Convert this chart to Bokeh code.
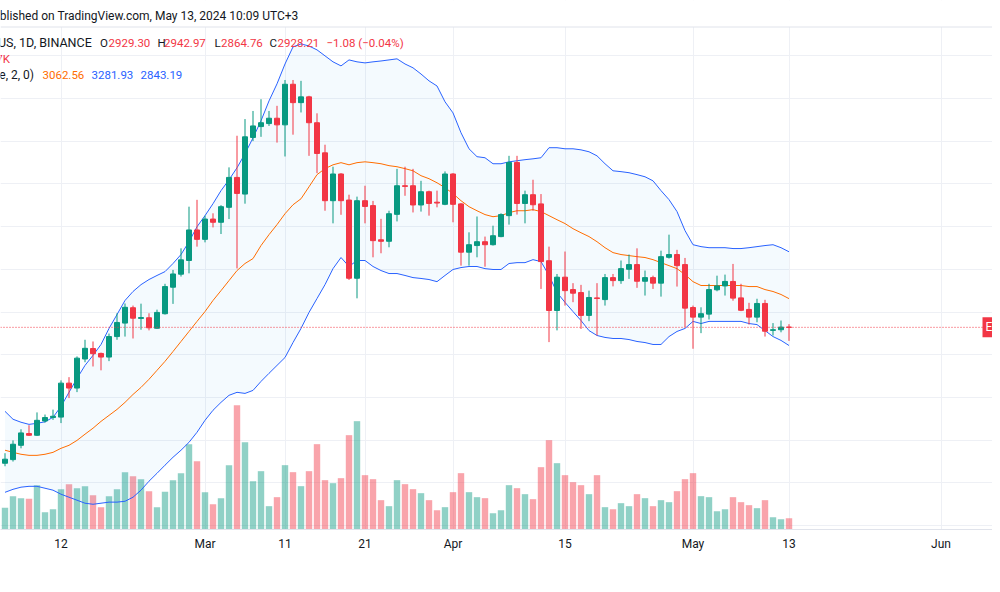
import numpy as np
import pandas as pd
from bokeh.plotting import figure
from bokeh.models import (Range1d, LinearAxis, Grid, FixedTicker, Label, Span,
                          BoxAnnotation)
from bokeh.embed import file_html
from bokeh.resources import INLINE

# ---------------- data ----------------
start_date = "2024-02-05"
symbol = "Ethereum / TetherUS, 1D, BINANCE"
ticker_name = "ETHUSDT"

open_ = [2292, 2309, 2376, 2431, 2423, 2490, 2506, 2508, 2667, 2644,
         2780, 2829, 2806, 2789, 2885, 2948, 3020, 2970, 2973, 2924,
         2992, 3116, 3177, 3241, 3384, 3340, 3435, 3420, 3490, 3630,
         3552, 3817, 3868, 3882, 3907, 3876, 4066, 3980, 4007, 3886,
         3745, 3521, 3646, 3524, 3158, 3521, 3498, 3338, 3331, 3457,
         3591, 3591, 3501, 3563, 3514, 3504, 3646, 3506, 3280, 3311,
         3329, 3315, 3353, 3451, 3700, 3508, 3549, 3506, 3240, 3007,
         3163, 3105, 3091, 2984, 3066, 3058, 3161, 3147, 3200, 3222,
         3144, 3161, 3135, 3256, 3269, 3222, 3021, 2976, 2990, 3104,
         3122, 3143, 3066, 3012, 2976, 3040, 2914, 2917, 2929.30]
high = [2339, 2399, 2451, 2470, 2530, 2520, 2543, 2680, 2695, 2792,
        2870, 2862, 2810, 2899, 2994, 3040, 3030, 3039, 2994, 3011,
        3132, 3197, 3298, 3493, 3525, 3451, 3462, 3500, 3677, 3825,
        3903, 3941, 3996, 3941, 3965, 4086, 4086, 4082, 4012, 3930,
        3783, 3680, 3650, 3549, 3540, 3591, 3520, 3436, 3474, 3670,
        3680, 3670, 3614, 3568, 3568, 3658, 3650, 3510, 3373, 3447,
        3353, 3404, 3462, 3731, 3731, 3568, 3619, 3552, 3306, 3178,
        3283, 3135, 3127, 3100, 3135, 3178, 3178, 3241, 3269, 3298,
        3194, 3170, 3287, 3362, 3291, 3253, 3030, 3022, 3132, 3170,
        3175, 3225, 3132, 3043, 3062, 3057, 2948, 2960, 2942.97]
low = [2278, 2300, 2362, 2420, 2420, 2482, 2495, 2480, 2597, 2625,
       2765, 2745, 2727, 2770, 2870, 2885, 2876, 2917, 2914, 2922,
       2988, 3038, 3166, 3181, 3306, 3326, 3396, 3365, 3435, 3204,
       3507, 3800, 3820, 3871, 3793, 3728, 3830, 3934, 3731, 3650,
       3474, 3415, 3455, 3150, 3064, 3415, 3256, 3275, 3303, 3424,
       3544, 3466, 3470, 3451, 3490, 3500, 3420, 3217, 3217, 3256,
       3212, 3311, 3350, 3409, 3456, 3415, 3474, 3108, 2859, 2914,
       3030, 3046, 2921, 2957, 2890, 3030, 3120, 3132, 3155, 3113,
       3077, 3108, 3072, 3250, 3119, 2929, 2828, 2901, 2965, 3097,
       3077, 3053, 3004, 2941, 2952, 2885, 2890, 2905, 2864.76]
close = [2311, 2381, 2434, 2423, 2493, 2506, 2512, 2667, 2644, 2784,
         2830, 2805, 2789, 2885, 2951, 3022, 2971, 2974, 2926, 2998,
         3119, 3178, 3244, 3384, 3340, 3435, 3420, 3493, 3630, 3555,
         3820, 3871, 3886, 3907, 3876, 4066, 3980, 4007, 3886, 3742,
         3521, 3646, 3521, 3158, 3521, 3494, 3334, 3331, 3460, 3591,
         3588, 3501, 3563, 3508, 3510, 3646, 3504, 3280, 3315, 3329,
         3315, 3357, 3456, 3700, 3508, 3549, 3502, 3236, 3007, 3163,
         3100, 3088, 2984, 3068, 3063, 3161, 3147, 3203, 3222, 3144,
         3161, 3135, 3259, 3269, 3217, 3018, 2976, 2992, 3105, 3122,
         3143, 3065, 3008, 2976, 3040, 2910, 2917, 2929.29, 2928.21]
volume_k = [260, 400, 376, 368, 532, 208, 244, 484, 544, 496,
            520, 412, 268, 400, 484, 688, 640, 604, 460, 268,
            452, 592, 676, 1024, 820, 448, 304, 376, 772, 1492,
            1048, 580, 700, 280, 388, 772, 688, 520, 700, 1024,
            592, 556, 616, 1132, 1300, 652, 604, 352, 280, 592,
            544, 484, 436, 352, 232, 268, 448, 676, 448, 388,
            376, 196, 232, 532, 496, 424, 364, 748, 1072, 796,
            652, 568, 532, 424, 652, 268, 244, 316, 280, 424,
            376, 280, 352, 328, 460, 604, 676, 400, 388, 220,
            244, 388, 328, 292, 256, 352, 148, 124, 135.67]
bb_upper = [2535, 2498, 2484, 2474, 2479, 2486, 2507, 2558, 2624, 2689,
            2750, 2797, 2848, 2923, 2988, 3054, 3096, 3128, 3152, 3171,
            3189, 3227, 3269, 3329, 3399, 3451, 3507, 3568, 3619, 3675,
            3741, 3815, 3895, 3988, 4068, 4161, 4241, 4255, 4245, 4227,
            4199, 4171, 4152, 4180, 4171, 4166, 4171, 4175, 4180, 4185,
            4161, 4143, 4114, 4082, 4058, 3984, 3932, 3839, 3764, 3727,
            3722, 3694, 3694, 3703, 3708, 3713, 3717, 3722, 3769, 3769,
            3764, 3764, 3759, 3750, 3731, 3694, 3661, 3657, 3652, 3643,
            3633, 3614, 3568, 3526, 3470, 3381, 3315, 3306, 3301, 3301,
            3301, 3297, 3297, 3301, 3306, 3311, 3315, 3301, 3281.93]
bb_basis = [2353, 2343, 2334, 2329, 2329, 2334, 2343, 2362, 2376, 2399,
            2428, 2456, 2488, 2516, 2544, 2577, 2614, 2647, 2685, 2727,
            2769, 2815, 2862, 2909, 2956, 3002, 3054, 3100, 3147, 3194,
            3227, 3250, 3311, 3362, 3409, 3460, 3502, 3530, 3586, 3643,
            3671, 3689, 3699, 3689, 3699, 3703, 3699, 3694, 3685, 3680,
            3671, 3661, 3638, 3624, 3605, 3582, 3554, 3521, 3493, 3474,
            3456, 3446, 3451, 3465, 3474, 3474, 3479, 3470, 3451, 3432,
            3414, 3390, 3371, 3353, 3329, 3301, 3278, 3269, 3264, 3259,
            3255, 3245, 3231, 3217, 3203, 3175, 3142, 3124, 3124, 3124,
            3124, 3124, 3124, 3119, 3119, 3105, 3096, 3082, 3062.56]
bb_lower = [2156, 2170, 2180, 2184, 2184, 2175, 2166, 2147, 2133, 2119,
            2105, 2100, 2105, 2110, 2110, 2114, 2133, 2166, 2208, 2245,
            2283, 2320, 2353, 2390, 2437, 2493, 2540, 2577, 2610, 2624,
            2619, 2633, 2675, 2713, 2750, 2787, 2857, 2923, 2998, 3063,
            3128, 3203, 3255, 3213, 3241, 3241, 3213, 3194, 3180, 3180,
            3171, 3161, 3157, 3152, 3142, 3171, 3199, 3208, 3213, 3213,
            3203, 3199, 3199, 3227, 3231, 3231, 3245, 3236, 3171, 3091,
            3045, 3002, 2960, 2913, 2890, 2881, 2876, 2876, 2871, 2862,
            2857, 2848, 2848, 2885, 2909, 2923, 2956, 2946, 2956, 2956,
            2956, 2956, 2956, 2946, 2941, 2913, 2885, 2867, 2843.19]
tick_dates = ["2024-02-12", "2024-03-01", "2024-03-11", "2024-03-21", "2024-04-01",
              "2024-04-15", "2024-05-01", "2024-05-13", "2024-06-01"]
tick_labels = ["12", "Mar", "11", "21", "Apr", "15", "May", "13", "Jun"]
price_grid = [2000, 2200, 2400, 2600, 2800, 3000, 3200, 3400, 3600, 3800, 4000, 4200]

# ---------------- derived ----------------
t0 = pd.Timestamp(start_date)
n = len(close)
x = np.arange(n)
tick_pos = [(pd.Timestamp(d) - t0).days for d in tick_dates]
o = np.array(open_, float); c = np.array(close, float)
up = c >= o
GREEN, RED = "#089981", "#f23645"
colors = [GREEN if u else RED for u in up]

# layout helpers: canvas pixels -> data coordinates (8 px per day, 200 per 42.73 px)
def xd(px):
    return (px - 4.5) / 8.0

def yd(py):
    return 3000 + (311.5 - py) * 200 / 42.727

FONT = "Roboto"
DARK = "#131722"
W, H = 992, 584
FRAME_BOTTOM = 529

p = figure(width=W, height=H, x_range=Range1d(xd(0), xd(W)),
           y_range=Range1d(yd(FRAME_BOTTOM), yd(0)), x_axis_location=None, y_axis_location=None,
           toolbar_location=None, output_backend="svg",
           min_border_left=0, min_border_right=0, min_border_top=0,
           min_border_bottom=H - FRAME_BOTTOM)
p.outline_line_color = None
p.background_fill_color = "white"
p.border_fill_color = "white"
p.grid.visible = False

xaxis = LinearAxis(ticker=FixedTicker(ticks=tick_pos),
                   major_label_overrides={int(t): l for t, l in zip(tick_pos, tick_labels)})
xaxis.axis_line_color = "#e0e3eb"
xaxis.major_tick_line_color = None
xaxis.minor_tick_line_color = None
xaxis.major_tick_out = 0
xaxis.major_label_standoff = 7
xaxis.major_label_text_font = FONT
xaxis.major_label_text_font_size = "12px"
xaxis.major_label_text_color = DARK
p.add_layout(xaxis, "below")

p.add_layout(Grid(dimension=0, ticker=FixedTicker(ticks=tick_pos), grid_line_color="#eef0f5"))
p.add_layout(Grid(dimension=1, ticker=FixedTicker(ticks=price_grid), grid_line_color="#eef0f5"))

# volume pane (overlay at the bottom)
p.extra_y_ranges = {"vol": Range1d(0, FRAME_BOTTOM * 12)}
p.vbar(x=x, top=volume_k, bottom=0, width=0.8, y_range_name="vol",
       fill_color=colors, fill_alpha=0.45, line_color=None)

# Bollinger bands
p.varea(x=x, y1=bb_lower, y2=bb_upper, fill_color="#2196f3", fill_alpha=0.05)
p.line(x, bb_upper, line_color="#2962ff", line_width=1)
p.line(x, bb_lower, line_color="#2962ff", line_width=1)
p.line(x, bb_basis, line_color="#ff6d00", line_width=1)

# candles
p.segment(x0=x, y0=low, x1=x, y1=high, line_color=colors, line_width=1)
p.vbar(x=x, top=np.maximum(o, c), bottom=np.minimum(o, c), width=0.625,
       fill_color=colors, line_color=colors, line_width=1)

# last price line
p.add_layout(Span(location=close[-1], dimension="width", line_color=RED,
                  line_dash="1 2", line_width=1))

# header strip
p.add_layout(BoxAnnotation(bottom=yd(26.5), fill_color="white", fill_alpha=1.0,
                           line_color=None))
p.add_layout(Span(location=yd(26.5), dimension="width", line_color="#e0e3eb", line_width=1))


def lab(px, py, text, color=DARK, align="left", size="11.5px"):
    p.add_layout(Label(x=xd(px), y=yd(py), text=text, text_color=color, text_align=align,
                       text_baseline="middle", text_font=FONT, text_font_size=size))


lab(298, 15, "Published on TradingView.com, May 13, 2024 10:09 UTC+3", align="right", size="12px")
lab(91.5, 42, symbol, align="right", size="12.5px")
chg = close[-1] - close[-2]
pct = chg / close[-2] * 100
for letter, val, lx, vx in [("O", open_[-1], 99.5, 108), ("H", high[-1], 157, 163.5),
                            ("L", low[-1], 214, 220.5), ("C", close[-1], 269, 277)]:
    lab(lx, 42, letter)
    lab(vx, 42, f"{val:.2f}", color=RED)
lab(326, 42, f"\u2212{abs(chg):.2f} (\u2212{abs(pct):.2f}%)", color=RED)
lab(9.5, 58, f"{volume_k[-1]:.2f}K", color=RED, align="right")
lab(33.5, 74, "BB (20, close, 2, 0)", align="right", size="12px")
lab(42, 74, f"{bb_basis[-1]:.2f}", color="#ff6d00")
lab(91, 74, f"{bb_upper[-1]:.2f}", color="#2962ff")
lab(140, 74, f"{bb_lower[-1]:.2f}", color="#2962ff")

# symbol label on the last price
p.add_layout(Label(x=xd(982), y=close[-1], text=ticker_name, text_color="white",
                   background_fill_color=RED, text_baseline="middle", text_align="left",
                   text_font=FONT, text_font_size="12px", padding=3))

open("out.html", "w").write(file_html(p, INLINE))
